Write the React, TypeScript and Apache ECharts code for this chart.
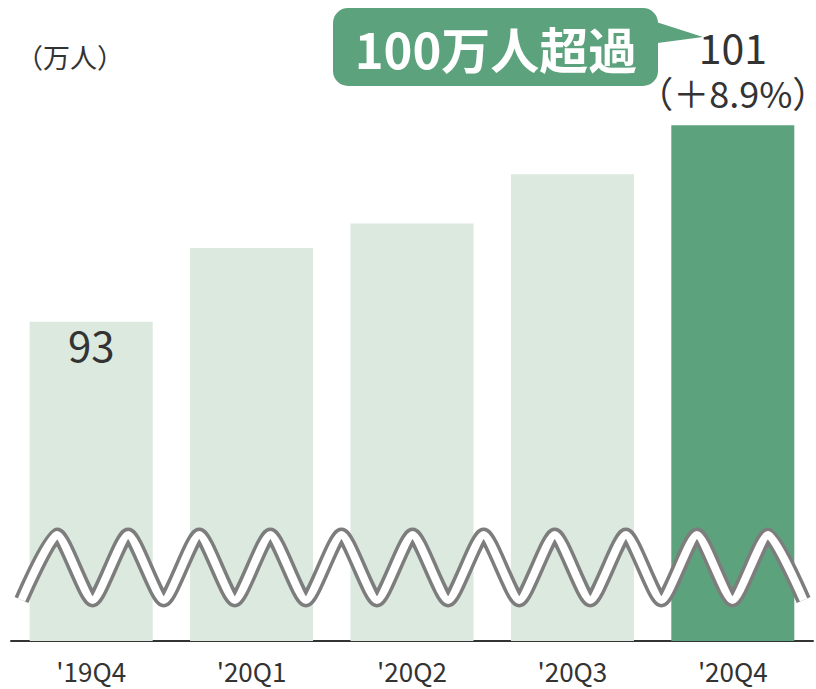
import React, { useEffect, useRef } from "react";
import * as echarts from "echarts";

const categories = ["'19Q4", "'20Q1", "'20Q2", "'20Q3", "'20Q4"];
const values = [93, 96, 97, 99, 101];
const barColors = ["#dbe9de", "#dbe9de", "#dbe9de", "#dbe9de", "#5ca27c"];
const unitLabel = "（万人）";
const calloutText = "100万人超過";
const lastGrowth = "（＋8.9%）";

const FONT = '"Noto Sans CJK JP", "Noto Sans", sans-serif';

export default function App() {
  const ref = useRef<HTMLDivElement>(null);
  useEffect(() => {
    if (!ref.current) return;
    const chart = echarts.init(ref.current, null, { renderer: "svg" });

    // zigzag break-line decoration
    const wavePts: number[][] = [];
    const x0 = 21.5;
    const step = 71.1;
    for (let i = 0; i <= 11; i++) {
      const tx = x0 + step * i;
      wavePts.push([tx, 600]);
      if (i < 11) wavePts.push([tx + step / 2, 535]);
    }

    const n = values.length;
    chart.setOption({
      animation: false,
      textStyle: { fontFamily: FONT },
      grid: { left: 11, right: 3, top: 27, bottom: 48 },
      xAxis: {
        type: "category",
        data: categories,
        axisTick: { show: false },
        axisLine: { lineStyle: { color: "#333", width: 2 } },
        axisLabel: { fontSize: 26, color: "#333", margin: 16, fontFamily: FONT },
      },
      yAxis: {
        type: "value",
        min: 80,
        max: 105,
        show: false,
        splitLine: { show: false },
      },
      series: [
        {
          type: "bar",
          barWidth: 123,
          z: 2,
          data: values.map((v, i) => {
            const item: any = { value: v, itemStyle: { color: barColors[i] } };
            if (i === 0) {
              item.label = {
                show: true,
                position: "insideTop",
                distance: 1,
                formatter: "{c}",
                fontSize: 42,
                color: "#333",
                fontFamily: FONT,
              };
            } else if (i === n - 1) {
              item.label = {
                show: true,
                position: "top",
                distance: 11,
                formatter: "{a|{c}}\n{b|" + lastGrowth + "}",
                rich: {
                  a: { fontSize: 41, lineHeight: 48, color: "#333", fontFamily: FONT },
                  b: { fontSize: 36, lineHeight: 44, color: "#333", fontFamily: FONT },
                },
              };
            }
            return item;
          }),
        },
      ],
      graphic: [
        {
          type: "text",
          left: 16,
          top: 43,
          style: { text: unitLabel, fontSize: 27, fill: "#333", fontFamily: FONT },
        },
        {
          type: "rect",
          z: 50,
          shape: { x: 333, y: 8, width: 325, height: 78, r: 15 },
          style: { fill: "#5ca27c" },
        },
        {
          type: "polygon",
          z: 50,
          shape: { points: [[650, 20], [703, 37], [650, 44]] },
          style: { fill: "#5ca27c" },
        },
        {
          type: "text",
          z: 51,
          x: 496,
          y: 47,
          style: {
            text: calloutText,
            fontSize: 49,
            fontWeight: "bold",
            fill: "#fff",
            align: "center",
            verticalAlign: "middle",
            fontFamily: FONT,
          },
        },
        {
          type: "polyline",
          z: 100,
          shape: { points: wavePts, smooth: 0.2 },
          style: { stroke: "#7d7d7d", lineWidth: 15, fill: null, lineJoin: "round", lineCap: "butt" },
        },
        {
          type: "polyline",
          z: 101,
          shape: { points: wavePts, smooth: 0.2 },
          style: { stroke: "#ffffff", lineWidth: 8, fill: null, lineJoin: "round", lineCap: "butt" },
        },
      ],
    });
    return () => chart.dispose();
  }, []);
  return (
    <div
      ref={ref}
      style={{ position: "absolute", left: 0, top: 0, width: 816, height: 689 }}
    />
  );
}
